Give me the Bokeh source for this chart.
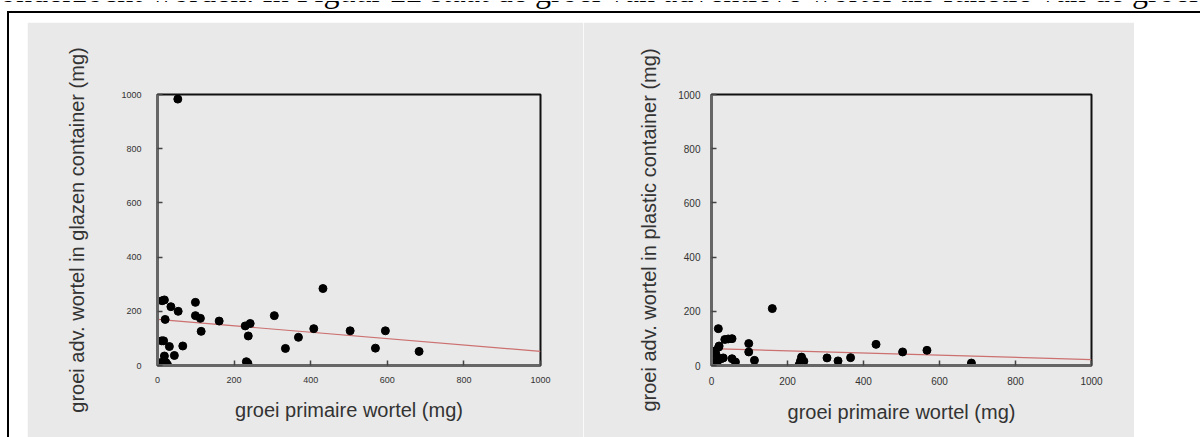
from bokeh.plotting import figure
from bokeh.layouts import row, column
from bokeh.models import Div, FixedTicker
from bokeh.embed import file_html
from bokeh.resources import INLINE

# ---------------- data ----------------
glass_x = [53, 12, 18, 35, 54, 99, 99, 112, 114, 161, 20, 229, 242, 237, 232, 236,
           305, 334, 368, 408, 432, 503, 569, 595, 683, 11, 16, 31, 66, 44, 18, 9, 22, 4, 26]
glass_y = [983, 239, 242, 217, 200, 233, 184, 174, 126, 164, 170, 146, 155, 109, 14, 8,
           184, 63, 104, 136, 284, 128, 64, 128, 52, 91, 91, 70, 72, 37, 35, 11, 11, 8, 3]

plastic_x = [160, 18, 35, 44, 54, 19, 10, 12, 31, 54, 63, 98, 98, 113, 15, 12, 25,
             237, 234, 230, 243, 304, 333, 366, 433, 503, 567, 684, 8, 20]
plastic_y = [210, 136, 96, 98, 99, 68, 54, 40, 28, 25, 13, 81, 50, 19, 3, 6, 25,
             31, 16, 1, 16, 28, 17, 29, 78, 50, 56, 9, 12, 72]

fit_x = [0, 1000]
fit_glass = [170, 52]
fit_plastic = [62, 22]

tick_vals = [0, 200, 400, 600, 800, 1000]
tick_labels = ["0", "200", "400", "600", "800", "1000"]

x_title = "groei primaire wortel (mg)"
y_title_glass = "groei adv. wortel in glazen container (mg)"
y_title_plastic = "groei adv. wortel in plastic container (mg)"
header_text = "onderzocht worden. In Figuur 22 staat de groei van adventieve wortel als functie van de groei"

BG = "#e9e9e9"


def make_plot(xs, ys, fy, ytitle, width, mleft, mright, mtop, mbottom, ystand, ylabstand, tick_size):
    p = figure(width=width, height=415, x_range=(0, 1000), y_range=(0, 1000),
               output_backend="svg", toolbar_location=None, margin=0,
               min_border_left=mleft, min_border_right=mright,
               min_border_top=mtop, min_border_bottom=mbottom)
    p.background_fill_color = BG
    p.border_fill_color = BG
    p.outline_line_color = "#111111"
    p.outline_line_width = 2
    p.grid.visible = False
    p.line(fit_x, fy, line_color="#cc7070", line_width=1.2)
    p.scatter(xs, ys, size=8, color="#000000")
    for ax in (p.xaxis[0], p.yaxis[0]):
        ax.ticker = FixedTicker(ticks=tick_vals)
        ax.major_label_overrides = {v: l for v, l in zip(tick_vals, tick_labels)}
        ax.major_tick_in = 5
        ax.major_tick_out = 0
        ax.major_tick_line_color = "#444444"
        ax.major_tick_line_width = 1.5
        ax.minor_tick_line_color = None
        ax.axis_line_color = "#666666"
        ax.axis_line_width = 3
        ax.major_label_text_font = "Liberation Sans"
        ax.major_label_text_font_size = tick_size
        ax.major_label_text_color = "#333333"
        ax.axis_label_text_font = "Liberation Sans"
        ax.axis_label_text_font_size = "20px"
        ax.axis_label_text_font_style = "normal"
        ax.axis_label_text_color = "#333333"
    p.xaxis.axis_label = x_title
    p.xaxis.major_label_standoff = 11
    p.xaxis.axis_label_standoff = 13
    p.yaxis.axis_label = ytitle
    p.yaxis.major_label_standoff = ystand
    p.yaxis.axis_label_standoff = ylabstand
    return p


p1 = make_plot(glass_x, glass_y, fit_glass, y_title_glass, 556, 130, 43, 71, 72, 16, 30, "9px")
p2 = make_plot(plastic_x, plastic_y, fit_plastic, y_title_plastic, 551, 128, 43, 72, 71, 11, 15, "10px")

line_bg = ("linear-gradient(#000,#000) 7px 11px / 1193px 2px no-repeat, "
           "linear-gradient(#000,#000) 7px 11px / 2px 20px no-repeat")
header = Div(width=1200, height=22, margin=0,
             styles={"background": line_bg, "overflow": "hidden"}, text=(
    '<div style="position:relative;width:1200px;height:11px;overflow:hidden;">'
    '<div style="position:absolute;left:0px;top:-32px;white-space:nowrap;'
    'font-family:\'Liberation Serif\';font-size:32px;color:#000;">' + header_text + '</div>'
    '</div>'))

side = Div(width=27, height=415, text="", margin=0,
           styles={"background": "linear-gradient(#000,#000) 7px 0px / 2px 100% no-repeat"})

page = column(header, row(side, p1, p2, margin=0, spacing=0), margin=0, spacing=0)

open("out.html", "w").write(file_html(page, INLINE))
